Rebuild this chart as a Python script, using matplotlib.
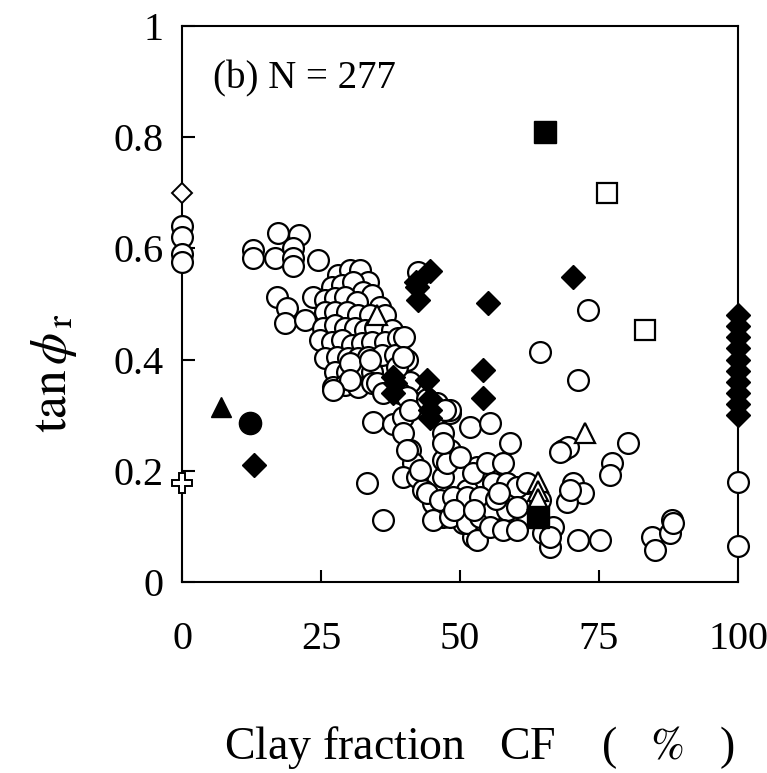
import matplotlib.pyplot as plt

plt.rcParams['font.family'] = ['Liberation Serif', 'DejaVu Serif']
plt.rcParams['mathtext.fontset'] = 'stix'

# open circles: clay fraction CF (%) and residual strength tan(phi_r)
circle_cf = [
    0, 0, 0, 0, 100, 100,
    17.3, 21.0, 12.8, 12.8, 16.7, 20.0, 20.0, 20.0, 24.5,
    17.1, 18.9, 18.5, 22.1, 23.6,
    28.1, 30.2, 32.0, 33.5, 26.9, 28.7, 30.8, 32.6, 34.1, 25.7,
    27.5, 29.3, 31.4, 35.6, 25.7, 27.5, 29.6, 31.7, 33.8, 36.5,
    25.4, 27.5, 29.3, 31.1, 32.9, 34.7, 37.7, 24.8, 26.9, 28.7,
    30.5, 32.3, 34.1, 36.5, 38.9, 25.7, 27.8, 29.9, 31.7, 33.5,
    35.9, 38.3, 27.5, 29.6, 31.7, 34.1, 27.2, 29.3, 31.7, 34.1,
    40.0, 40.5, 41.0,
    30.2, 33.8, 38.6, 39.7, 30.2, 35.0, 36.2, 39.2, 27.2, 41.0,
    34.4, 38.0, 39.8, 39.8, 41.0, 41.6, 39.8, 42.2, 43.3, 45.2,
    46.9, 48.2, 47.0, 48.2, 45.9, 51.8, 55.4, 53.1, 54.2, 51.2,
    49.5, 51.8, 52.3, 50.6, 54.2, 46.9, 46.9, 33.2, 36.2,
    40.5, 41.0, 48.2, 40.5, 42.8, 47.7, 46.9, 50.0, 52.3, 54.9,
    57.8, 59.0, 55.9, 58.5, 60.3, 44.1, 46.4, 48.8, 51.2, 53.6,
    45.2, 48.2, 51.2, 53.6, 55.9, 58.5, 60.3, 53.1, 55.4, 57.7,
    60.3, 64.9, 66.7, 66.2, 64.4, 62.0, 49.0, 56.5, 52.5, 57.0,
    42.5, 44.0, 47.3,
    73.0, 64.4, 71.2, 68.5, 69.4, 68.0, 80.2, 77.3, 77.0,
    70.3, 72.1, 69.2, 69.8, 66.2, 71.2, 75.2,
    84.5, 85.1, 87.8, 88.1, 88.3,
]
circle_tan = [
    0.640, 0.620, 0.590, 0.575, 0.180, 0.065,
    0.628, 0.624, 0.597, 0.583, 0.583, 0.600, 0.583, 0.568, 0.579,
    0.513, 0.493, 0.466, 0.471, 0.513,
    0.552, 0.561, 0.561, 0.540, 0.531, 0.534, 0.540, 0.522, 0.516, 0.507,
    0.510, 0.513, 0.504, 0.495, 0.486, 0.486, 0.486, 0.480, 0.480, 0.480,
    0.456, 0.462, 0.456, 0.456, 0.453, 0.456, 0.453, 0.435, 0.432, 0.435,
    0.426, 0.429, 0.432, 0.432, 0.438, 0.402, 0.405, 0.402, 0.402, 0.405,
    0.408, 0.408, 0.378, 0.378, 0.378, 0.378, 0.351, 0.354, 0.351, 0.357,
    0.440, 0.400, 0.360,
    0.394, 0.399, 0.387, 0.405, 0.363, 0.357, 0.340, 0.340, 0.345, 0.327,
    0.288, 0.285, 0.297, 0.268, 0.237, 0.214, 0.189, 0.189, 0.165, 0.142,
    0.117, 0.237, 0.268, 0.304, 0.322, 0.279, 0.286, 0.207, 0.178, 0.165,
    0.147, 0.135, 0.081, 0.106, 0.106, 0.189, 0.219, 0.178, 0.112,
    0.333, 0.309, 0.309, 0.237, 0.201, 0.214, 0.250, 0.225, 0.196, 0.214,
    0.214, 0.250, 0.178, 0.178, 0.171, 0.160, 0.147, 0.153, 0.153, 0.153,
    0.112, 0.117, 0.106, 0.117, 0.129, 0.129, 0.135, 0.076, 0.099, 0.094,
    0.094, 0.088, 0.099, 0.063, 0.147, 0.178, 0.130, 0.150, 0.130, 0.160,
    0.557, 0.330, 0.310,
    0.489, 0.414, 0.363, 0.237, 0.243, 0.234, 0.250, 0.214, 0.192,
    0.178, 0.160, 0.144, 0.165, 0.081, 0.076, 0.076,
    0.081, 0.058, 0.088, 0.112, 0.106,
]

# solid diamonds
diamond_cf = [42.1, 42.4, 44.6, 38.0, 38.3, 38.0, 44.1, 44.6, 44.6,
              44.6, 54.2, 54.2, 55.0, 70.3, 12.9, 42.2,
              100, 100, 100, 100, 100, 100, 100, 100, 100, 100]
diamond_tan = [0.540, 0.507, 0.560, 0.369, 0.357, 0.340, 0.363, 0.330,
               0.310, 0.295, 0.381, 0.331, 0.502, 0.549, 0.210, 0.531,
               0.480, 0.460, 0.440, 0.420, 0.400, 0.380, 0.360, 0.340, 0.320, 0.300]
# solid diamond buried inside the circle cloud
hidden_cf = [31.7]
hidden_tan = [0.510]

# other soil groups
tri_open_cf = [35.0, 72.5, 64.0, 64.0, 64.0]
tri_open_tan = [0.480, 0.268, 0.180, 0.163, 0.150]
sq_fill_cf = [65.3, 64.0]
sq_fill_tan = [0.810, 0.117]
sq_open_cf = [76.4, 83.3]
sq_open_tan = [0.700, 0.453]
tri_fill_cf = [7.1]
tri_fill_tan = [0.315]
dot_fill_cf = [12.2]
dot_fill_tan = [0.286]
dia_open_cf = [0]
dia_open_tan = [0.700]
plus_open_cf = [0]
plus_open_tan = [0.178]

fig = plt.figure(figsize=(7.67, 7.73), dpi=100)
ax = fig.add_axes([0.2373, 0.2471, 0.7249, 0.7193])

ax.plot(hidden_cf, hidden_tan, 'D', ms=12.5, color='black', clip_on=False, zorder=2)
ax.plot(circle_cf, circle_tan, 'o', ms=15, mfc='white', mec='black', mew=1.6,
        clip_on=False, zorder=3)
ax.plot(tri_open_cf, tri_open_tan, '^', ms=14, mfc='white', mec='black', mew=1.6,
        clip_on=False, zorder=4)
ax.plot(sq_open_cf, sq_open_tan, 's', ms=15, mfc='white', mec='black', mew=1.6,
        clip_on=False, zorder=4)
ax.plot(dia_open_cf, dia_open_tan, 'D', ms=10, mfc='white', mec='black', mew=1.4,
        clip_on=False, zorder=4)
ax.plot(plus_open_cf, plus_open_tan, 'P', ms=15, mfc='white', mec='black', mew=1.4,
        clip_on=False, zorder=4)
ax.plot(diamond_cf, diamond_tan, 'D', ms=12.5, color='black', clip_on=False, zorder=5)
ax.plot(sq_fill_cf, sq_fill_tan, 's', ms=16, color='black', clip_on=False, zorder=5)
ax.plot(tri_fill_cf, tri_fill_tan, '^', ms=15, color='black', clip_on=False, zorder=5)
ax.plot(dot_fill_cf, dot_fill_tan, 'o', ms=16, color='black', clip_on=False, zorder=5)

ax.set_xlim(0, 100)
ax.set_ylim(0, 1)
ax.set_xticks([0, 25, 50, 75, 100])
ax.set_xticklabels(['0', '25', '50', '75', '100'])
ax.set_yticks([0, 0.2, 0.4, 0.6, 0.8, 1])
ax.set_yticklabels(['0', '0.2', '0.4', '0.6', '0.8', '1'])
ax.tick_params(direction='in', length=9, width=1.5, labelsize=29)
ax.tick_params(axis='x', pad=28)
ax.tick_params(axis='y', pad=13)
for s in ax.spines.values():
    s.set_linewidth(1.5)

ax.text(0.056, 0.888, '(b) N = 277', transform=ax.transAxes, fontsize=28,
        va='baseline')

ax.set_xlabel('Clay fraction   CF    (   $\\it{\\%}$   )', fontsize=33)
ax.xaxis.set_label_coords(0.535, -0.255)
ax.set_ylabel(r'$\mathrm{tan}\,\phi_{\,\mathrm{r}}$', fontsize=37)
ax.yaxis.set_label_coords(-0.185, 0.375)

plt.savefig('out.png', dpi=100)
